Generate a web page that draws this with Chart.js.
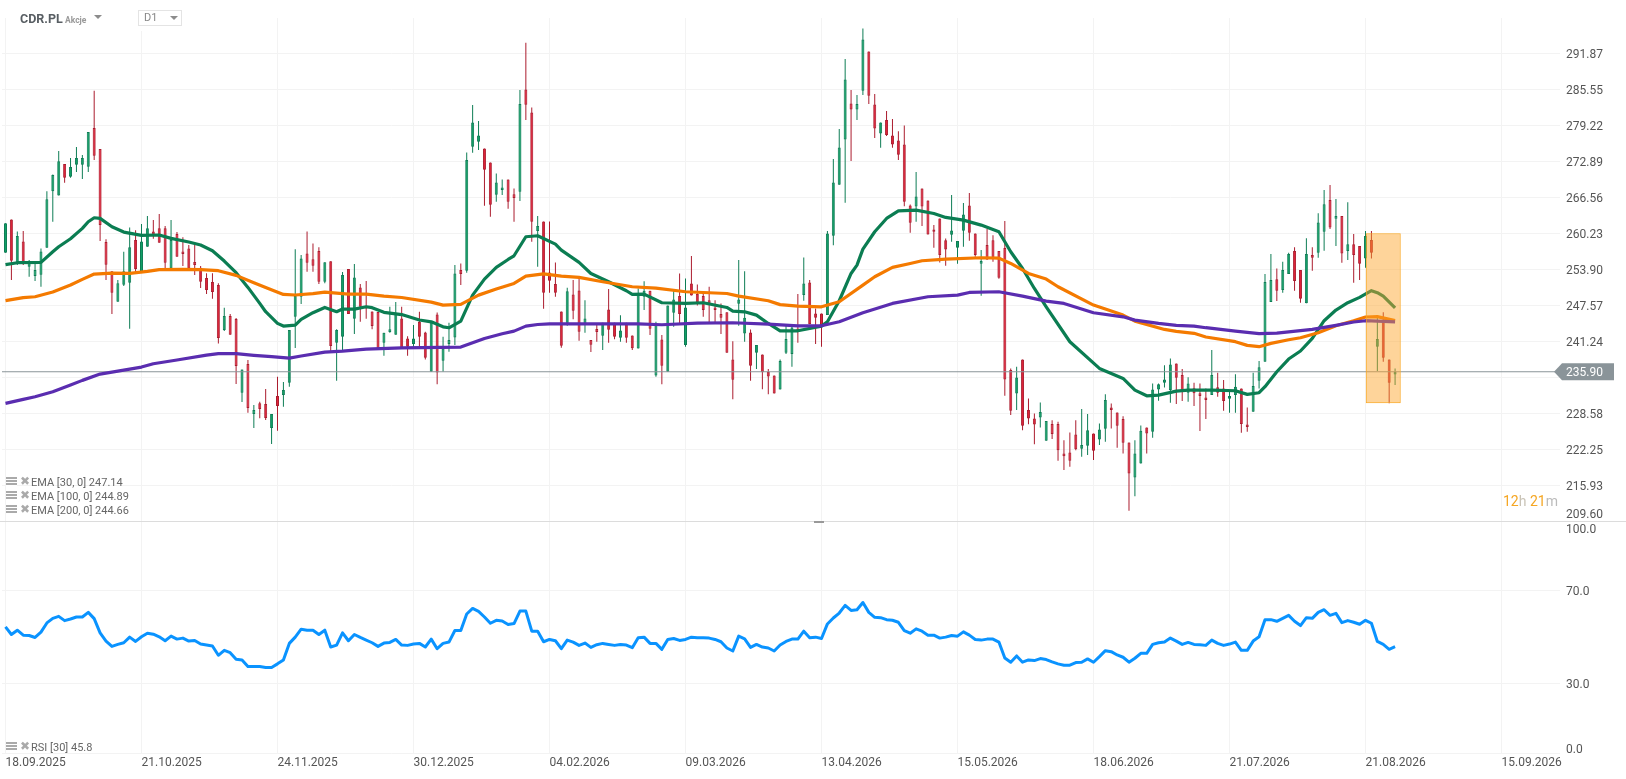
<!DOCTYPE HTML>
<html lang="pl">
<head>
<meta charset="utf-8" />
<title>CDR.PL D1</title>
<script src="https://cdn.jsdelivr.net/npm/chart.js"></script>
<style>
    html, body { margin: 0; padding: 0; background: #fff; overflow: hidden; width: 1626px; height: 779px; font-family: Roboto, sans-serif; }
    canvas { position: absolute; left: 0; }
    #mainChart { top: 0; }
    #rsiChart { top: 521px; }
    .abs { position: absolute; white-space: nowrap; line-height: 14px; }
    .tri { position: absolute; width: 0; height: 0; border-left: 4px solid transparent; border-right: 4px solid transparent; border-top: 4px solid #8c8c8c; }
    .ind { position: absolute; left: 6px; height: 14px; line-height: 14px; font-size: 11px; color: #666; white-space: nowrap; }
    .ind i { position: absolute; left: 0; top: 1px; width: 11px; height: 9px; background: repeating-linear-gradient(#aaa 0 2px, #fff 2px 3px); }
    .ind b { position: absolute; left: 14px; top: -2px; font: 12px "DejaVu Sans"; color: #aaa; }
    .ind span { margin-left: 25px; }
</style>
</head>
<body>
<canvas id="mainChart" width="1626" height="522"></canvas>
<canvas id="rsiChart" width="1626" height="258"></canvas>

<!-- Header -->
<div class="abs" style="left:20px;top:12px;font-size:12.5px;font-weight:700;color:#585e63">CDR.PL</div>
<div class="abs" style="left:65px;top:13px;font-size:8.5px;font-weight:700;color:#999">Akcje</div>
<div class="tri" style="left:94px;top:15px"></div>
<div style="position:absolute;left:138px;top:10px;width:42px;height:14px;border:1px solid #e4e4e4;outline:6px solid #fff;outline-offset:-1px;background:#fff"></div>
<div style="position:absolute;left:138px;top:10px;width:42px;height:14px;border:1px solid #e4e4e4;background:#fff"></div>
<div class="abs" style="left:144px;top:11px;font-size:11px;color:#888">D1</div>
<div class="tri" style="left:170px;top:16px"></div>

<!-- Indicators -->
<div class="ind" style="top:476px"><i></i><b>✖</b><span id="lblEma30"></span></div>
<div class="ind" style="top:490px"><i></i><b>✖</b><span id="lblEma100"></span></div>
<div class="ind" style="top:504px"><i></i><b>✖</b><span id="lblEma200"></span></div>
<div class="ind" style="top:741px"><i></i><b>✖</b><span id="lblRsi"></span></div>

<!-- Countdown -->
<div class="abs" style="left:1503px;top:494px;font-size:14px;color:#f5a623">12<span style="color:#c9c3b6">h</span> 21<span style="color:#bbb">m</span></div>

<!-- Separator -->
<div style="position:absolute;left:0;top:521px;width:1626px;height:1px;background:#dcdcdc"></div>
<div style="position:absolute;left:814px;top:521px;width:10px;height:2px;background:#999"></div>

<script>
// Candles, index 0 = 18.09.2025
const opens = [
    256.83,262.69,254.95,258.82,254.37,252.73,252.96,257.71,267.62,266.91,
    272.42,270.2,272.3,272.3,271.95,278.75,275.06,258.7,253.55,248.21,
    251.2,251.56,259.06,253.49,257.88,260.58,261.11,261.11,254.07,260.11,
    257.06,257.59,255.19,254.19,252.38,251.67,251.14,243.23,245.69,245.16,
    232.21,237.25,228.46,230.34,230.22,225.99,231.62,231.8,233.97,245.58,
    249.09,256.71,255.66,257.12,251.73,255.31,241.0,242.06,253.96,245.22,
    250.73,247.45,246.51,246.4,241.0,242.88,242.41,245.27,241.75,240.76,
    244.68,242.81,235.9,245.97,237.83,240.76,241.93,253.77,253.65,275.46,
    276.34,275.16,272.7,267.0,267.84,269.71,267.13,267.54,285.54,281.49,
    260.63,262.33,253.36,251.31,246.5,244.1,249.49,250.19,244.1,241.46,
    243.4,242.22,246.85,244.51,241.87,244.51,242.28,239.99,249.08,250.14,
    235.25,241.58,235.9,246.27,249.2,240.58,251.42,249.55,249.2,248.49,
    247.2,246.03,246.38,238.06,247.85,242.63,242.81,239.23,238.94,235.89,
    235.25,232.78,239.23,239.0,243.51,249.38,251.6,246.15,246.15,245.86,
    259.81,268.78,276.75,283.08,282.02,285.3,292.22,282.9,277.8,280.15,
    277.45,276.57,275.87,265.14,264.96,268.13,266.02,260.92,262.86,259.04,
    259.98,257.7,260.69,265.14,260.22,254.88,258.17,259.04,257.11,257.64,
    236.19,232.08,238.06,229.15,227.68,227.86,223.76,226.69,226.69,221.53,
    221.7,224.87,222.35,222.88,225.05,223.99,225.87,229.62,228.74,227.57,
    223.47,217.31,219.77,226.1,225.34,232.78,233.96,232.67,237.36,235.32,
    232.21,233.0,232.1,231.39,231.8,233.15,232.97,231.16,231.8,232.97,
    226.64,228.87,234.32,237.66,248.16,252.14,250.26,253.08,257.12,253.78,
    247.92,256.42,256.83,260.52,266.09,262.81,263.28,257.12,258.3,258.0,
    255.83,259.06,240.3,244.7,238.07,235.43];
const highs = [
    261.99,262.69,260.58,260.64,255.54,254.95,257.59,267.62,270.6,274.71,
    272.42,273.48,275.41,274.0,278.05,285.32,275.06,259.2,253.55,252.02,
    257.0,261.28,260.8,261.87,263.28,262.57,263.63,261.52,262.57,260.46,
    259.53,258.18,258.18,254.48,253.2,253.2,251.44,247.16,246.04,245.34,
    236.31,237.96,230.04,230.63,232.86,228.46,235.02,234.09,243.23,257.42,
    256.42,260.58,258.47,257.77,255.13,255.31,243.35,253.43,253.96,254.84,
    251.32,251.85,246.51,246.4,242.76,247.33,248.15,247.32,242.16,244.1,
    246.44,242.93,244.68,246.33,242.05,244.51,254.65,254.94,274.46,282.78,
    279.97,275.16,272.7,270.77,269.71,269.71,268.13,285.42,293.75,282.37,
    263.27,262.33,262.33,255.12,246.5,250.66,252.01,252.6,248.49,241.46,
    244.1,244.51,250.43,244.51,245.85,244.51,242.28,250.55,251.83,250.14,
    244.68,242.34,247.56,250.37,253.18,252.3,256.23,251.25,249.96,250.84,
    248.49,247.91,246.38,241.28,255.53,253.59,243.34,240.58,238.94,236.36,
    235.25,238.06,244.27,244.27,249.55,256.0,252.01,247.03,246.15,260.63,
    273.29,278.56,290.87,285.42,284.54,296.27,292.22,284.72,279.74,281.73,
    280.32,278.2,279.21,265.32,271.0,268.13,266.02,261.69,262.86,259.34,
    266.96,258.87,265.55,267.31,260.22,257.29,260.98,259.92,257.11,262.39,
    236.48,236.77,238.06,231.2,228.56,230.51,227.22,227.39,227.1,223.87,
    225.22,227.39,229.33,228.45,225.05,226.8,231.96,230.32,228.74,228.09,
    223.47,223.87,226.45,226.1,233.84,233.84,237.06,238.24,237.36,236.37,
    234.91,233.97,233.85,232.97,239.71,235.73,234.44,232.68,235.44,232.97,
    229.63,235.73,237.78,253.08,256.6,254.07,255.25,256.83,257.77,253.78,
    259.35,257.77,263.75,267.85,268.73,266.27,263.28,265.68,260.11,258.0,
    260.64,260.64,245.58,246.34,238.07,236.49];
const lows = [
    256.83,252.02,254.66,254.66,252.61,251.85,250.85,257.71,262.28,266.91,
    269.14,270.02,271.0,269.8,271.0,273.13,258.88,252.02,246.04,248.21,
    250.97,243.47,253.5,253.4,257.88,259.29,258.59,254.07,254.07,256.13,
    254.48,254.07,252.9,250.62,249.56,248.74,240.88,243.05,242.41,233.73,
    230.57,228.7,226.0,227.7,227.4,223.2,225.53,229.75,233.27,240.07,
    247.8,253.49,253.49,251.32,251.44,239.42,234.32,239.71,246.04,242.53,
    244.7,245.22,243.35,240.0,238.72,242.76,242.41,239.99,238.71,240.0,
    240.0,238.06,235.9,233.72,235.9,239.41,240.58,251.13,253.3,274.4,
    274.87,265.08,263.15,265.78,266.96,264.55,262.27,265.9,280.15,258.75,
    254.36,246.97,249.78,249.08,240.11,244.0,245.15,241.34,242.75,239.35,
    241.17,239.7,240.99,241.63,241.17,240.99,239.7,239.99,246.74,242.34,
    235.01,233.72,235.9,243.8,244.1,240.29,249.31,247.56,245.56,244.51,
    244.51,242.52,239.23,231.08,243.98,241.17,234.31,236.36,232.84,231.96,
    232.08,232.78,239.0,236.77,240.99,248.38,244.27,240.76,240.29,245.86,
    258.16,268.78,265.61,272.94,280.15,284.54,282.96,276.98,275.28,277.33,
    275.28,273.11,265.02,260.34,262.27,261.51,260.04,257.7,255.12,254.53,
    258.75,254.88,257.87,258.93,256.11,249.26,255.53,255.24,252.24,231.67,
    228.27,229.15,225.63,226.68,223.17,226.1,223.76,224.05,220.24,218.6,
    219.19,222.11,220.94,221.24,220.36,223.0,223.58,225.93,222.53,221.53,
    211.45,214.0,219.77,221.53,224.29,230.79,233.14,230.44,230.21,230.75,
    230.63,229.87,225.47,227.58,231.8,231.51,229.05,228.69,228.69,225.18,
    225.35,228.87,232.97,237.66,248.16,248.33,249.8,253.08,250.15,248.04,
    247.92,253.66,255.95,257.18,261.0,258.0,255.07,255.54,251.55,252.02,
    254.19,255.83,236.02,237.66,230.34,233.56];
const closes = [
    261.99,255.42,259.76,254.95,255.13,253.78,257.06,266.21,270.49,272.89,
    270.02,271.9,273.48,273.48,278.05,273.89,261.7,254.72,249.8,251.44,
    253.55,257.77,253.96,258.82,261.11,259.76,258.59,255.07,259.06,256.13,
    256.6,254.07,254.66,251.73,250.27,249.91,241.82,245.69,242.41,236.9,
    236.31,229.51,229.16,229.34,227.76,228.46,229.87,232.68,243.23,249.21,
    255.83,255.07,254.54,251.73,255.13,240.42,243.23,252.9,246.04,252.49,
    247.33,247.04,243.93,240.0,242.76,243.35,246.16,239.99,240.29,241.75,
    242.05,238.35,244.68,235.77,240.0,241.46,253.18,253.07,273.11,279.74,
    277.45,271.41,265.26,269.18,268.31,265.78,266.43,282.96,282.84,262.27,
    261.51,249.78,251.89,249.78,240.46,250.07,246.62,242.93,245.27,240.64,
    242.87,244.51,243.28,242.05,243.16,241.87,240.05,249.55,250.14,243.45,
    244.1,236.95,247.56,248.61,246.03,247.2,249.31,247.91,246.74,247.91,
    246.74,245.38,239.23,234.49,248.61,245.38,236.95,240.58,235.83,235.07,
    232.08,237.77,241.64,243.69,242.93,251.42,244.27,245.38,244.1,260.22,
    269.18,275.34,287.3,282.02,282.96,294.33,284.43,278.68,279.74,277.51,
    275.87,274.05,265.78,262.09,266.72,264.96,260.04,260.51,256.41,257.4,
    260.74,258.87,263.56,260.34,256.41,255.35,255.64,255.94,252.42,234.55,
    229.03,234.89,226.39,227.68,226.63,228.8,227.22,224.93,222.11,221.06,
    220.24,222.29,223.0,225.63,222.0,225.75,230.91,229.15,226.39,223.41,
    218.01,221.53,225.52,225.05,232.78,233.72,234.54,237.18,234.84,232.68,
    233.85,232.1,231.63,230.92,235.32,232.21,230.75,231.63,233.27,226.7,
    226.17,233.38,236.67,251.67,252.02,250.15,253.78,256.6,251.85,248.74,
    256.6,255.95,262.16,265.33,261.28,263.28,256.71,258.3,256.42,254.9,
    259.76,256.83,241.65,238.37,233.97,235.9];

// EMA lines, read at the bar numbers in the *Idx arrays
const ema30Idx = [0,2,6,8,9,11,13,14,15,16,18,20,23,26,28,31,33,35,37,39,41,43,44,46,47,49,50,52,54,56,57,59,61,62,64,67,70,72,74,75,77,79,81,83,85,86,88,90,93,94,97,99,102,105,106,108,111,115,118,122,123,125,127,129,131,134,138,139,141,143,144,145,147,149,151,154,157,159,162,165,168,170,172,174,176,180,185,189,191,193,195,198,200,204,208,210,212,213,215,217,219,221,223,225,227,229,231,232,233,235];
const ema30 = [254.72,255.07,255.13,257.0,257.88,259.29,261.11,262.28,262.98,262.87,261.4,260.46,259.88,259.94,259.35,258.71,258.18,257.18,255.36,253.31,250.73,247.92,246.45,244.4,243.93,244.1,245.1,246.28,247.2,246.45,246.92,246.92,247.33,247.16,246.34,245.95,245.0,244.68,243.8,243.63,244.8,249.37,252.19,254.24,255.64,256.29,259.63,259.81,258.34,257.29,255.12,253.18,251.72,250.14,249.49,249.55,248.03,247.91,248.03,247.2,246.56,246.44,245.86,244.39,243.1,243.1,243.92,244.68,248.38,253.18,254.65,257.46,260.51,262.85,264.2,264.32,263.73,263.03,262.56,261.68,260.51,257.0,254.06,250.54,247.32,241.17,236.48,234.72,232.67,231.67,231.78,232.49,232.68,232.68,232.56,231.92,232.21,233.27,235.9,238.13,239.54,241.77,244.87,246.75,248.04,248.98,250.15,249.8,249.21,247.14];
const ema100Idx = [0,3,5,8,11,13,15,18,21,24,26,30,33,36,39,42,44,47,49,52,54,58,61,64,67,72,74,77,80,83,86,88,91,94,97,101,106,110,115,122,124,129,131,134,138,141,145,147,150,153,155,159,165,168,170,173,176,178,184,189,191,196,198,201,203,208,210,212,214,217,219,222,225,228,230,232,235];
const ema100 = [248.39,248.92,249.09,249.91,251.14,252.14,253.08,253.25,253.2,253.55,253.84,253.9,253.84,253.67,252.84,251.56,250.73,249.5,249.39,249.62,249.91,249.56,249.56,249.21,248.95,248.14,247.61,247.73,249.37,250.43,251.43,252.71,253.12,252.71,252.48,251.72,250.84,250.6,249.96,249.66,249.2,248.38,247.7,247.44,247.32,248.2,251.13,252.6,254.24,254.94,255.41,255.7,255.94,255.88,254.94,253.18,252.19,250.84,247.62,245.86,244.8,243.34,243.0,242.65,242.0,241.18,240.53,240.3,240.88,241.53,241.88,242.76,243.99,244.87,245.52,245.58,244.89];
const ema200Idx = [0,3,5,8,11,13,16,19,23,25,29,34,36,39,42,45,48,50,54,57,61,67,77,81,84,86,88,90,92,107,111,117,123,129,134,138,141,145,150,156,161,163,168,172,176,179,184,189,191,195,198,201,203,208,212,215,221,225,228,230,235];
const ema200 = [230.33,231.04,231.51,232.39,233.57,234.38,235.49,236.02,236.72,237.31,237.96,238.83,239.07,239.07,238.78,238.54,238.3,238.66,239.36,239.54,239.89,240.1,240.23,241.75,242.57,243.04,243.92,244.21,244.33,244.33,244.16,244.45,244.51,244.27,243.98,243.98,244.68,246.27,247.91,249.08,249.38,249.84,249.96,249.2,248.32,247.91,246.27,245.56,244.98,244.4,244.04,243.93,243.64,243.05,242.59,242.7,243.35,244.05,244.64,244.87,244.66];

// RSI, one value per bar
const rsi = [
    54.35,51.08,52.93,50.8,50.65,49.8,52.08,56.06,58.05,58.9,
    57.06,57.77,58.62,58.62,60.61,57.91,51.79,48.24,45.96,46.81,
    47.52,49.94,48.09,50.09,51.65,51.22,50.09,48.38,50.37,49.09,
    49.52,48.24,48.52,46.96,46.53,46.1,42.12,44.25,43.26,40.41,
    40.13,37.28,37.28,37.28,36.86,36.86,38.42,40.13,47.24,49.94,
    53.36,52.93,52.93,51.08,52.93,45.68,46.53,51.79,48.38,51.08,
    49.8,48.66,47.52,45.96,47.38,47.67,48.95,46.53,46.39,46.96,
    47.24,45.68,49.09,44.96,47.24,47.81,52.79,52.79,59.9,62.32,
    61.04,58.62,55.92,57.2,56.91,55.35,55.78,61.18,61.18,52.5,
    52.5,47.95,48.95,48.38,44.96,48.66,47.81,46.39,47.38,45.53,
    46.67,47.24,46.81,46.39,46.81,46.53,45.39,49.66,49.94,47.24,
    47.24,44.68,48.95,49.37,48.52,48.95,49.94,49.66,49.66,49.52,
    48.95,47.95,45.25,43.97,50.37,49.23,45.53,46.81,45.68,45.25,
    43.97,46.53,48.09,49.09,49.09,52.5,49.66,49.94,49.37,55.63,
    58.19,60.33,63.6,61.47,61.75,64.88,60.61,58.48,58.34,57.48,
    57.2,56.34,52.79,51.65,53.5,52.5,50.8,50.8,49.52,49.94,
    50.65,50.37,52.22,50.8,48.95,48.66,49.09,49.09,47.81,40.98,
    39.13,41.84,39.13,40.13,39.84,40.7,40.27,39.27,38.42,37.85,
    37.85,38.99,39.13,40.55,39.13,41.55,44.11,43.68,42.26,41.27,
    39.13,40.84,42.97,42.97,46.81,47.52,47.81,49.52,48.24,46.81,
    47.67,46.81,46.67,46.39,48.66,47.24,46.39,46.96,47.81,44.25,
    44.25,48.24,50.09,57.48,57.48,56.77,58.05,59.33,56.77,54.92,
    58.34,58.05,60.61,61.75,59.33,60.18,56.2,57.06,56.34,55.49,
    57.2,55.92,48.09,46.81,44.68,45.8];

const priceTicks = [209.60,215.93,222.25,228.58,234.91,241.24,247.57,253.90,260.23,266.56,272.89,279.22,285.55,291.87];
const rsiTicks = [0,30,70,100];
const dateTickIdx = [0,23,46,69,92,115,138,161,184,207,230,253];
const dateLabels = ['18.09.2025','21.10.2025','24.11.2025','30.12.2025','04.02.2026','09.03.2026','13.04.2026','15.05.2026','18.06.2026','21.07.2026','21.08.2026','15.09.2026'];
const lastPrice = 235.90;
const boxBars = [233];     // shaded box centre, bar number
const boxPrices = [230.34, 260.23];

const GREEN_FILL = '#12a067', GREEN_LINE = '#0e7d55', RED_FILL = '#e0243a', RED_LINE = '#ab1c2e';
const GRID = '#f3f3f3';
const xMin = -0.59, xMax = 262.89;
const upBar = i => closes[i] >= opens[i];

document.getElementById('lblEma30').textContent = 'EMA [30, 0] 247.14';
document.getElementById('lblEma100').textContent = 'EMA [100, 0] 244.89';
document.getElementById('lblEma200').textContent = 'EMA [200, 0] 244.66';
document.getElementById('lblRsi').textContent = 'RSI [30] 45.8';

Chart.defaults.font.family = 'Roboto';
Chart.defaults.font.size = 12;
Chart.defaults.color = '#555';
Chart.defaults.animation = false;

function toXY(idx, vals) {
    return vals.map((v, i) => ({ x: idx[i], y: v }));
}

function lineSet(data, color, width, order) {
    return { type: 'line', data, borderColor: color, borderWidth: width, pointRadius: 0, tension: 0, order, borderJoinStyle: 'round' };
}

function xAxis(showLabels) {
    return {
        type: 'linear', min: xMin, max: xMax, offset: false,
        grid: { color: GRID, offset: false, drawTicks: false },
        border: { display: false },
        afterBuildTicks: s => { s.ticks = dateTickIdx.map(v => ({ value: v })); },
        afterFit: s => { s.height = showLabels ? 26 : 0; s.paddingLeft = 0; s.paddingRight = 0; },
        ticks: {
            display: showLabels, autoSkip: false, maxRotation: 0, align: 'start', padding: 3,
            callback: (v, i) => dateLabels[i]
        }
    };
}

function yAxis(min, max, tickVals, label, font) {
    return {
        position: 'right', min, max,
        grid: { color: GRID, drawTicks: false },
        border: { display: false },
        afterBuildTicks: s => { s.ticks = tickVals.map(v => ({ value: v })); },
        afterFit: s => { s.width = 66; s.paddingTop = 0; s.paddingBottom = 0; },
        ticks: { padding: 6, crossAlign: 'near', autoSkip: false, labelOffset: 1.3, callback: label, font }
    };
}

// price tag on the right edge
const priceTag = {
    id: 'priceTag',
    afterDraw(chart) {
        const c = chart.ctx;
        const y = chart.scales.y.getPixelForValue(lastPrice);
        c.save();
        c.fillStyle = '#8a9499';
        c.beginPath();
        c.moveTo(1554, y);
        c.lineTo(1562, y - 8.5);
        c.lineTo(1614, y - 8.5);
        c.lineTo(1614, y + 8.5);
        c.lineTo(1562, y + 8.5);
        c.closePath();
        c.fill();
        c.fillStyle = '#fff';
        c.font = '12px Roboto';
        c.textBaseline = 'middle';
        c.fillText(lastPrice.toFixed(2), 1566, y + 1.5);
        c.restore();
    }
};

new Chart(document.getElementById('mainChart'), {
    type: 'bar',
    data: {
        datasets: [
            {
                label: 'wicks', order: 7, barThickness: 1, grouped: false, inflateAmount: 0,
                data: highs.map((h, i) => ({ x: i, y: [lows[i], h] })),
                backgroundColor: c => upBar(c.dataIndex) ? GREEN_LINE : RED_LINE
            },
            {
                label: 'bodies', order: 6, barThickness: 3, grouped: false, borderWidth: 1, borderSkipped: false, inflateAmount: 0,
                data: opens.map((o, i) => ({ x: i, y: [o, closes[i]] })),
                backgroundColor: c => upBar(c.dataIndex) ? GREEN_FILL : RED_FILL,
                borderColor: c => upBar(c.dataIndex) ? GREEN_LINE : RED_LINE
            },
            lineSet(toXY([xMin, xMax], [lastPrice, lastPrice]), '#8a9499', 1.2, 5),
            lineSet(toXY(ema30Idx, ema30), '#0b7d52', 3.2, 4),
            lineSet(toXY(ema100Idx, ema100), '#f47a00', 3.2, 3),
            lineSet(toXY(ema200Idx, ema200), '#5a2db0', 3.2, 2),
            {
                label: 'box', order: 1, barThickness: 35, grouped: false, borderWidth: 1, borderSkipped: false, inflateAmount: 0,
                data: boxBars.map(b => ({ x: b, y: boxPrices })),
                backgroundColor: 'rgba(253,163,40,0.47)', borderColor: '#f9a825'
            }
        ]
    },
    options: {
        responsive: false,
        layout: { padding: { top: 18, left: 2, right: 0, bottom: 0.7 } },
        plugins: { legend: { display: false }, tooltip: { enabled: false } },
        scales: {
            x: xAxis(false),
            y: yAxis(209.60, 298.1, priceTicks, v => {
                if (v === 234.91) return '';                // covered by the price tag
                if (v === 209.60) return [v.toFixed(2), ''];   // sits above the pane edge
                return v.toFixed(2);
            })
        }
    },
    plugins: [priceTag]
});

new Chart(document.getElementById('rsiChart'), {
    type: 'line',
    data: { datasets: [lineSet(toXY(rsi.map((v, i) => i), rsi), '#0a93ff', 3, 1)] },
    options: {
        responsive: false,
        layout: { padding: { top: 0, left: 2, right: 0, bottom: 0 } },
        plugins: { legend: { display: false }, tooltip: { enabled: false } },
        scales: {
            x: xAxis(true),
            y: yAxis(0, 100, rsiTicks, v => {
                if (v === 100) return ['', v.toFixed(1)];
                if (v === 0) return [v.toFixed(1), ''];
                return v.toFixed(1);
            }, c => ({ lineHeight: c.tick && c.tick.value === 0 ? 0.67 : 1.2 }))
        }
    }
});
</script>
</body>
</html>
